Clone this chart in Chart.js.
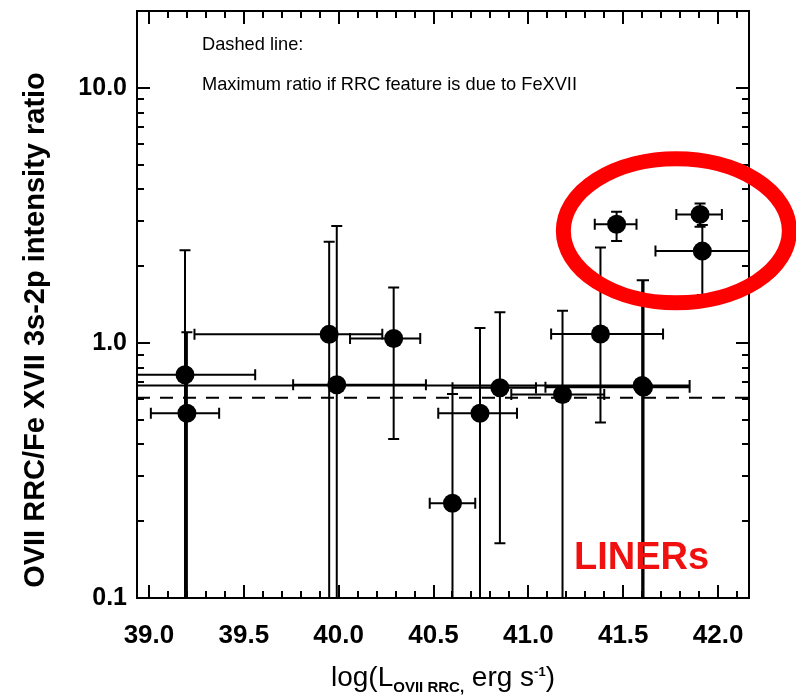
<!DOCTYPE html>
<html>
<head>
<meta charset="utf-8">
<script src="https://cdn.jsdelivr.net/npm/chart.js@4.4.1/dist/chart.umd.min.js"></script>
<style>
  html, body { margin: 0; padding: 0; background: #fff; }
  #wrap { width: 796px; height: 695px; }
</style>
</head>
<body>
<div id="wrap"><canvas id="ratioChart" width="796" height="695"></canvas></div>
<script>
// Axis ranges and tick labels
const xMin = 38.937;
const xMax = 42.163;
const yMin = 0.1;
const yMax = 20;
const xTicks = [39.0, 39.5, 40.0, 40.5, 41.0, 41.5, 42.0];
const yTicks = [0.1, 1, 10];

// One entry per source: log L(OVII RRC), ratio, and error bar ends
const logL      = [39.19, 39.20, 39.95, 40.29, 39.99, 40.60, 40.745, 40.85, 41.18, 41.38, 41.60, 41.607, 41.465, 41.905, 41.917];
const ratio     = [0.75,  0.53,  1.08,  1.04,  0.685, 0.235, 0.53,   0.667, 0.628, 1.084, 0.681, 0.67,   2.92,   3.19,   2.29];
const logLLow   = [38.81, 39.01, 39.24, 40.06, 39.76, 40.48, 40.525, 40.60, 40.91, 41.12, 38.50, 41.09,  41.35,  41.78,  41.67];
const logLHigh  = [39.56, 39.37, 40.23, 40.43, 40.46, 40.72, 40.94,  41.04, 41.40, 41.71, 41.85, 41.85,  41.57,  42.02,  42.17];
const ratioLow  = [0.05,  0.05,  0.05,  0.42,  0.05,  0.05,  0.05,   0.164, 0.05,  0.487, 0.05,  0.05,   2.51,   2.85,   1.54];
const ratioHigh = [2.31,  1.10,  2.49,  1.65,  2.87,  0.63,  1.144,  1.318, 1.337, 2.366, 1.76,  1.76,   3.27,   3.52,   2.90];

// Dashed line: maximum ratio if RRC feature is due to FeXVII
const maxRatioFeXVII = 0.61;

// LINER highlight (centre in data units)
const linerCentre = { x: 41.78, y: 2.75 };

const FONT = "'Liberation Sans', Arial, sans-serif";

const errorBars = {
  id: 'errorBars',
  beforeDatasetsDraw(chart) {
    const { ctx, chartArea: a, scales: { x, y } } = chart;
    const cap = 5.5;
    ctx.save();
    ctx.beginPath();
    ctx.rect(a.left, a.top, a.right - a.left, a.bottom - a.top);
    ctx.clip();
    ctx.strokeStyle = '#000';
    ctx.lineWidth = 2;
    ctx.beginPath();
    logL.forEach((v, i) => {
      const px = x.getPixelForValue(v);
      const py = y.getPixelForValue(ratio[i]);
      const x0 = x.getPixelForValue(logLLow[i]);
      const x1 = x.getPixelForValue(logLHigh[i]);
      const y0 = y.getPixelForValue(ratioLow[i]);
      const y1 = y.getPixelForValue(ratioHigh[i]);
      ctx.moveTo(x0, py); ctx.lineTo(x1, py);
      ctx.moveTo(x0, py - cap); ctx.lineTo(x0, py + cap);
      ctx.moveTo(x1, py - cap); ctx.lineTo(x1, py + cap);
      ctx.moveTo(px, y0); ctx.lineTo(px, y1);
      ctx.moveTo(px - cap, y0); ctx.lineTo(px + cap, y0);
      ctx.moveTo(px - cap, y1); ctx.lineTo(px + cap, y1);
    });
    ctx.stroke();
    ctx.restore();
  }
};

const frameAndText = {
  id: 'frameAndText',
  afterDraw(chart) {
    const { ctx, chartArea: a, scales: { x, y } } = chart;
    ctx.save();
    ctx.strokeStyle = '#000';
    ctx.lineWidth = 2;
    ctx.strokeRect(a.left, a.top, a.right - a.left, a.bottom - a.top);

    // inward ticks on all four sides
    ctx.beginPath();
    for (let i = 389; i <= 422; i++) {
      const v = i / 10;
      if (v <= x.min || v >= x.max) continue;
      const px = Math.round(x.getPixelForValue(v));
      const len = i % 5 === 0 ? 13 : 7;
      ctx.moveTo(px, a.bottom); ctx.lineTo(px, a.bottom - len);
      ctx.moveTo(px, a.top); ctx.lineTo(px, a.top + len);
    }
    for (const dec of yTicks) {
      for (let m = 1; m <= 9; m++) {
        const v = dec * m;
        if (v < y.min || v > y.max) continue;
        const py = Math.round(y.getPixelForValue(v));
        const len = m === 1 ? 13 : 7;
        ctx.moveTo(a.left, py); ctx.lineTo(a.left + len, py);
        ctx.moveTo(a.right, py); ctx.lineTo(a.right - len, py);
      }
    }
    ctx.stroke();

    ctx.fillStyle = '#000';
    ctx.textBaseline = 'alphabetic';

    // note in the top left
    ctx.font = '19px ' + FONT;
    const note2 = 'Maximum ratio if RRC feature is due to FeXVII';
    const sx = 375 / ctx.measureText(note2).width;
    ctx.save();
    ctx.translate(202, 50);
    ctx.scale(sx, 1);
    ctx.fillText('Dashed line:', 0, 0);
    ctx.fillText(note2, 0, 40);
    ctx.restore();

    // y axis title
    ctx.save();
    ctx.font = 'bold 29px ' + FONT;
    ctx.translate(44, 330);
    ctx.rotate(-Math.PI / 2);
    ctx.textAlign = 'center';
    ctx.fillText('OVII RRC/Fe XVII 3s-2p intensity ratio', 0, 0, 520);
    ctx.restore();

    // x axis title with subscript and superscript
    const parts = [
      { t: 'log(L', f: '28px ', dy: 0 },
      { t: 'OVII RRC,', f: 'bold 15px ', dy: 6 },
      { t: ' erg s', f: '28px ', dy: 0 },
      { t: '-1', f: 'bold 13px ', dy: -10 },
      { t: ')', f: '28px ', dy: 0 }
    ];
    let total = 0;
    parts.forEach((p) => { ctx.font = p.f + FONT; p.w = ctx.measureText(p.t).width; total += p.w; });
    let tx = (a.left + a.right) / 2 - total / 2;
    parts.forEach((p) => {
      ctx.font = p.f + FONT;
      ctx.fillText(p.t, tx, 686 + p.dy);
      tx += p.w;
    });

    // LINER highlight
    ctx.strokeStyle = '#ff0000';
    ctx.lineWidth = 15;
    ctx.beginPath();
    ctx.ellipse(x.getPixelForValue(linerCentre.x), y.getPixelForValue(linerCentre.y), 113, 72, 0, 0, Math.PI * 2);
    ctx.stroke();
    ctx.fillStyle = '#f01010';
    ctx.font = 'bold 38px ' + FONT;
    ctx.fillText('LINERs', 574, 569);
    ctx.restore();
  }
};

const ctx = document.getElementById('ratioChart');
new Chart(ctx, {
  type: 'scatter',
  data: {
    datasets: [
      {
        label: 'sources',
        data: logL.map((v, i) => ({ x: v, y: ratio[i] })),
        backgroundColor: '#000',
        borderWidth: 0,
        pointRadius: 9.5,
        showLine: false,
      },
      {
        label: 'max ratio',
        type: 'line',
        data: [{ x: xMin, y: maxRatioFeXVII }, { x: xMax, y: maxRatioFeXVII }],
        borderColor: '#000',
        borderWidth: 2,
        borderDash: [13, 10],
        pointRadius: 0,
        fill: false,
      },
    ],
  },
  options: {
    responsive: false,
    animation: false,
    devicePixelRatio: 1,
    layout: { padding: { top: 11, right: 47, left: 0, bottom: 0 } },
    plugins: { legend: { display: false }, tooltip: { enabled: false } },
    scales: {
      x: {
        type: 'linear',
        min: xMin,
        max: xMax,
        grid: { display: false, drawTicks: false },
        border: { display: false },
        afterBuildTicks: (s) => { s.ticks = xTicks.map((v) => ({ value: v })); },
        afterFit: (s) => { s.height = 97; s.paddingLeft = 0; s.paddingRight = 0; },
        ticks: {
          padding: 22,
          maxRotation: 0,
          color: '#000',
          font: { family: FONT, size: 26, weight: 'bold' },
          callback: (v) => Number(v).toFixed(1),
        },
      },
      y: {
        type: 'logarithmic',
        min: yMin,
        max: yMax,
        grid: { display: false, drawTicks: false },
        border: { display: false },
        afterBuildTicks: (s) => { s.ticks = yTicks.map((v) => ({ value: v })); },
        afterFit: (s) => { s.width = 137; s.paddingTop = 0; s.paddingBottom = 0; },
        ticks: {
          padding: 10,
          color: '#000',
          font: { family: FONT, size: 25, weight: 'bold' },
          callback: (v) => Number(v).toFixed(1),
        },
      },
    },
  },
  plugins: [errorBars, frameAndText],
});
</script>
</body>
</html>
